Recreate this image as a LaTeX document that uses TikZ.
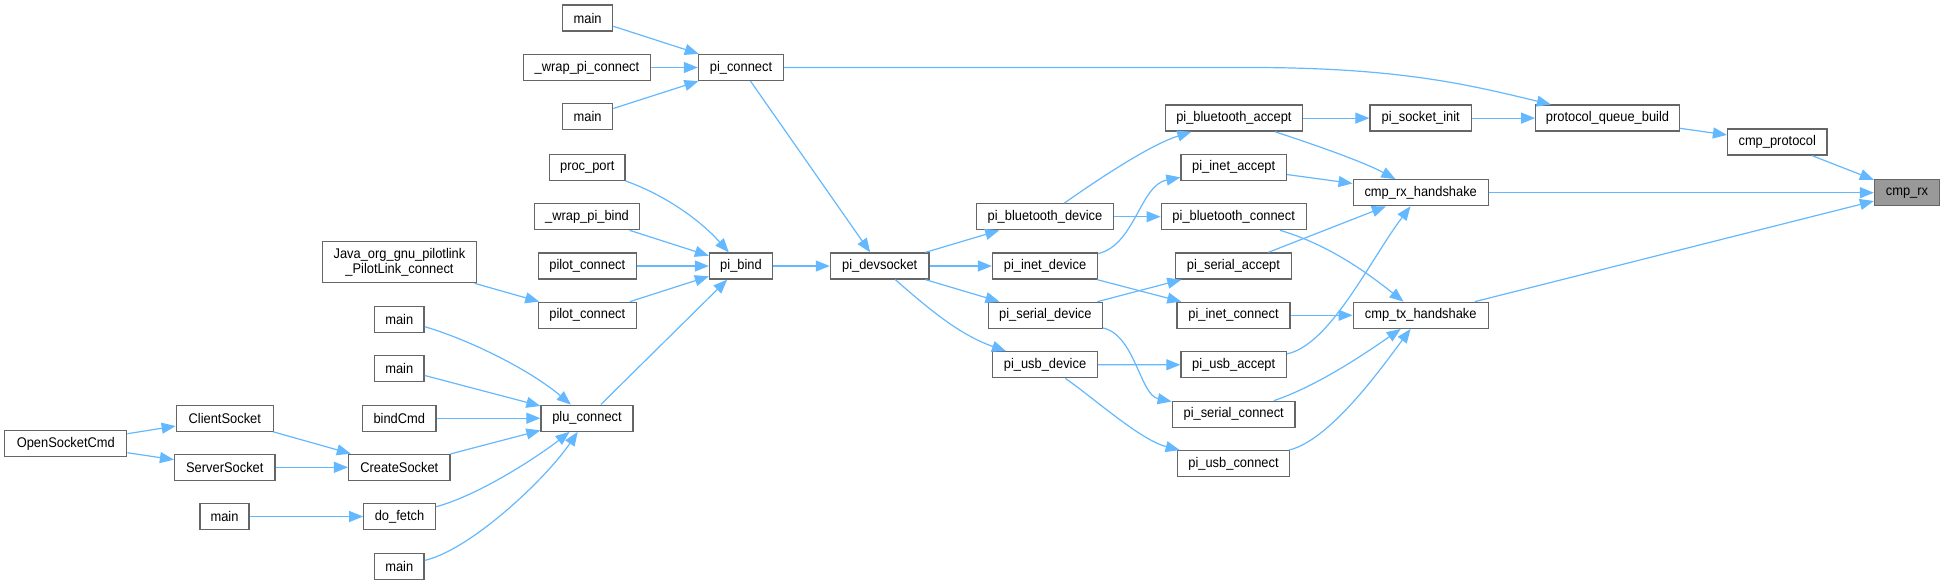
\documentclass[tikz,border=0pt]{standalone}
\usepackage{fontspec}
\setmainfont{Liberation Sans}[FakeStretch=0.92]
\usetikzlibrary{arrows.meta,calc}
\definecolor{edgeblue}{HTML}{63B8FF}
\definecolor{boxgray}{HTML}{666666}
\definecolor{curgray}{HTML}{999999}
\begin{document}
\begin{tikzpicture}[x=1pt,y=-1pt,
  box/.style={draw=boxgray, fill=white, line width=1.3pt, minimum height=26pt,
    inner sep=0pt, font=\fontsize{14}{15}\selectfont},
  cur/.style={box, fill=curgray},
  edge/.style={draw=edgeblue, line width=1.2pt, -{Triangle[length=14pt,width=11pt]}}]
\useasboundingbox (0,0) rectangle (1945,584);

% column 1-3 (left)
\node[box,minimum width=122pt] (opensocket) at (65.8,443.5) {OpenSocketCmd};
\node[box,minimum width=97pt] (clientsocket) at (224.8,418.2) {ClientSocket};
\node[box,minimum width=100.5pt] (serversocket) at (224.8,467.3) {ServerSocket};
\node[box,minimum width=49pt] (main5) at (224.5,516.5) {main};
\node[box,minimum width=153.6pt,minimum height=41.4pt,align=center] (java) at (399.5,262) {Java\_org\_gnu\_pilotlink\\\_PilotLink\_connect};
\node[box,minimum width=49.6pt] (main3) at (399.3,319.2) {main};
\node[box,minimum width=49.6pt] (main4) at (399.3,368.8) {main};
\node[box,minimum width=73.6pt] (bindcmd) at (399.3,418.2) {bindCmd};
\node[box,minimum width=101.4pt] (createsocket) at (399.3,467.3) {CreateSocket};
\node[box,minimum width=71.4pt] (dofetch) at (399.5,516.5) {do\_fetch};
\node[box,minimum width=49.6pt] (main6) at (399.3,566.2) {main};

% column 4
\node[box,minimum width=50pt] (main1) at (587.6,18) {main};
\node[box,minimum width=127pt] (wrapconn) at (587,67.5) {\_wrap\_pi\_connect};
\node[box,minimum width=50pt] (main2) at (587.6,116.7) {main};
\node[box,minimum width=75.5pt] (procport) at (587.3,167.3) {proc\_port};
\node[box,minimum width=104.5pt] (wrapbind) at (587,216.7) {\_wrap\_pi\_bind};
\node[box,minimum width=98.3pt] (pilotc1) at (587.3,266) {pilot\_connect};
\node[box,minimum width=98.3pt] (pilotc2) at (587.3,315.3) {pilot\_connect};
\node[box,minimum width=92pt] (pluconnect) at (587,418.2) {plu\_connect};

% column 5-6
\node[box,minimum width=85pt] (piconnect) at (741,67.5) {pi\_connect};
\node[box,minimum width=63pt] (pibind) at (741,266) {pi\_bind};
\node[box,minimum width=98.6pt] (pidev) at (879.7,266) {pi\_devsocket};

% column 7
\node[box,minimum width=136.7pt] (pibtdev) at (1045,216.7) {pi\_bluetooth\_device};
\node[box,minimum width=105pt] (piinetdev) at (1045,266) {pi\_inet\_device};
\node[box,minimum width=114pt] (piserialdev) at (1045.3,315.3) {pi\_serial\_device};
\node[box,minimum width=104.5pt] (piusbdev) at (1045,364.7) {pi\_usb\_device};

% column 8
\node[box,minimum width=137.4pt] (pibtaccept) at (1233.9,118.1) {pi\_bluetooth\_accept};
\node[box,minimum width=105.4pt] (piinetaccept) at (1233.7,167.3) {pi\_inet\_accept};
\node[box,minimum width=145pt] (pibtconnect) at (1233.7,216.7) {pi\_bluetooth\_connect};
\node[box,minimum width=116pt] (piserialaccept) at (1233.4,266) {pi\_serial\_accept};
\node[box,minimum width=113pt] (piinetconnect) at (1233.5,315.3) {pi\_inet\_connect};
\node[box,minimum width=105.4pt] (piusbaccept) at (1233.7,364.8) {pi\_usb\_accept};
\node[box,minimum width=122.8pt] (piserialconnect) at (1233.7,414.3) {pi\_serial\_connect};
\node[box,minimum width=112.4pt] (piusbconnect) at (1233.5,463.7) {pi\_usb\_connect};

% column 9-12
\node[box,minimum width=101.4pt] (pisocketinit) at (1420.7,118.1) {pi\_socket\_init};
\node[box,minimum width=135pt] (cmprxhs) at (1420.7,192.7) {cmp\_rx\_handshake};
\node[box,minimum width=135pt] (cmptxhs) at (1420.7,315.3) {cmp\_tx\_handshake};
\node[box,minimum width=143.5pt] (pqb) at (1607.5,118.1) {protocol\_queue\_build};
\node[box,minimum width=99.3pt] (cmpprotocol) at (1777.2,142) {cmp\_protocol};
\node[cur,minimum width=65pt] (cmprx) at (1907,192.7) {cmp\_rx};

\coordinate (bend1) at (1250,67.5);

% edges, left part
\draw[edge] (opensocket) -- (clientsocket);
\draw[edge] (opensocket) -- (serversocket);
\draw[edge] (clientsocket) -- (createsocket);
\draw[edge] (serversocket) -- (createsocket);
\draw[edge] (main5) -- (dofetch);
\draw[edge] (java) -- (pilotc2);
\draw[edge] (main3) .. controls (470,340) and (530,370) .. (pluconnect);
\draw[edge] (main4) -- (pluconnect);
\draw[edge] (bindcmd) -- (pluconnect);
\draw[edge] (createsocket) -- (pluconnect);
\draw[edge] (dofetch) .. controls (480,495) and (540,455) .. (pluconnect);
\draw[edge] (main6) .. controls (470,550) and (545,480) .. (pluconnect);

\draw[edge] (main1) -- (piconnect);
\draw[edge] (wrapconn) -- (piconnect);
\draw[edge] (main2) -- (piconnect);
\draw[edge] (procport) .. controls (665,195) and (700,220) .. (pibind);
\draw[edge] (wrapbind) -- (pibind);
\draw[edge] (pilotc1) -- (pibind);
\draw[edge] (pilotc2) -- (pibind);
\draw[edge] (pluconnect) -- (pibind);

\draw[edge] (piconnect) -- (pidev);
\draw[edge] (piconnect) -- (bend1) .. controls (1400,67.5) and (1470,85) .. (pqb);
\draw[edge] (pibind) -- (pidev);

% middle
\draw[edge] (pidev) -- (pibtdev);
\draw[edge] (pidev) -- (piinetdev);
\draw[edge] (pidev) -- (piserialdev);
\draw[edge] (pidev) .. controls (930,310) and (960,335) .. (piusbdev);

\draw[edge] (pibtdev) .. controls (1100,178) and (1150,145) .. (pibtaccept);
\draw[edge] (pibtdev) -- (pibtconnect);
\draw[edge] (piinetdev) .. controls (1135,245) and (1140,185) .. (piinetaccept);
\draw[edge] (piinetdev) -- (piinetconnect);
\draw[edge] (piserialdev) -- (piserialaccept);
\draw[edge] (piserialdev) .. controls (1135,335) and (1140,395) .. (piserialconnect);
\draw[edge] (piusbdev) -- (piusbaccept);
\draw[edge] (piusbdev) .. controls (1090,395) and (1140,440) .. (piusbconnect);

% right part
\draw[edge] (pibtaccept) -- (pisocketinit);
\draw[edge] (pibtaccept) .. controls (1300,140) and (1360,160) .. (cmprxhs);
\draw[edge] (piinetaccept) -- (cmprxhs);
\draw[edge] (pibtconnect) .. controls (1330,245) and (1370,275) .. (cmptxhs);
\draw[edge] (piserialaccept) -- (cmprxhs);
\draw[edge] (piinetconnect) -- (cmptxhs);
\draw[edge] (piusbaccept) .. controls (1330,345) and (1370,260) .. (cmprxhs);
\draw[edge] (piserialconnect) .. controls (1320,385) and (1370,350) .. (cmptxhs);
\draw[edge] (piusbconnect) .. controls (1330,440) and (1380,370) .. (cmptxhs);

\draw[edge] (pisocketinit) -- (pqb);
\draw[edge] (pqb) -- (cmpprotocol);
\draw[edge] (cmpprotocol) -- (cmprx);
\draw[edge] (cmprxhs) -- (cmprx);
\draw[edge] (cmptxhs) -- (cmprx);
\end{tikzpicture}
\end{document}
